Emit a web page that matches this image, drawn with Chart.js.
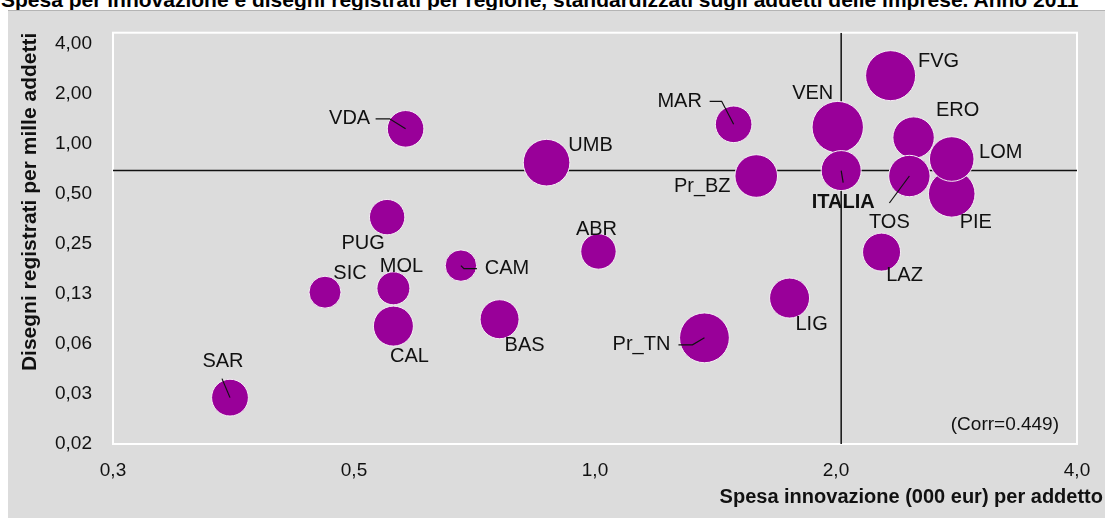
<!DOCTYPE html>
<html>
<head>
<meta charset="utf-8">
<script src="https://cdn.jsdelivr.net/npm/chart.js@4.4.0/dist/chart.umd.min.js"></script>
<style>
  html, body { margin: 0; padding: 0; background: #fff; width: 1105px; height: 518px; overflow: hidden; }
  #titolo { position: absolute; left: 1px; top: -11px; font: bold 21px "Liberation Sans", Arial, sans-serif; line-height: 21px; white-space: nowrap; color: #000; }
  #riquadro { position: absolute; left: 8px; top: 10px; width: 1097px; height: 507px; background: #dcdcdc; border-top: 1px solid #b4b4b4; }
  #bubbleChart { position: absolute; left: 8px; top: 6px; display: block; }
</style>
</head>
<body>
<div id="titolo">Spesa per innovazione e disegni registrati per regione, standardizzati sugli addetti delle imprese. Anno 2011</div>
<div id="riquadro"></div>
<canvas id="bubbleChart" width="1097" height="512"></canvas>
<script>
// Dati
var regioni = ['VDA', 'PIE', 'LOM', 'Pr_BZ', 'Pr_TN', 'VEN', 'FVG', 'LIG', 'ERO', 'TOS', 'UMB',
               'MAR', 'LAZ', 'ABR', 'MOL', 'CAM', 'PUG', 'BAS', 'CAL', 'SIC', 'SAR', 'ITALIA'];
// spesa innovazione (000 eur) per addetto
var spesa = [0.58, 2.79, 2.79, 1.59, 1.37, 2.01, 2.34, 1.75, 2.50, 2.47, 0.87,
             1.49, 2.28, 1.01, 0.56, 0.68, 0.55, 0.76, 0.56, 0.46, 0.35, 2.03];
// disegni registrati per mille addetti
var disegni = [1.23, 0.50, 0.81, 0.64, 0.068, 1.26, 2.57, 0.118, 1.09, 0.64, 0.77,
               1.31, 0.223, 0.225, 0.135, 0.185, 0.362, 0.088, 0.080, 0.128, 0.0297, 0.69];
// dimensione della bolla
var peso = [18.3, 23.3, 22.3, 21.3, 24.9, 25.7, 25.0, 20.0, 20.7, 20.7, 23.3,
            18.3, 19.0, 17.7, 16.5, 15.7, 17.7, 19.5, 20.0, 16.0, 18.4, 20.0];

var xTicks = [0.25, 0.5, 1, 2, 4];
var xTickLabels = ['0,3', '0,5', '1,0', '2,0', '4,0'];
var yTicks = [0.015625, 0.03125, 0.0625, 0.125, 0.25, 0.5, 1, 2, 4];
var yTickLabels = ['0,02', '0,03', '0,06', '0,13', '0,25', '0,50', '1,00', '2,00', '4,00'];
var correlazione = '(Corr=0.449)';

var FONT = '"Liberation Sans", Arial, sans-serif';

// posizione delle etichette rispetto al centro della bolla (px) e linee di richiamo
var posEtichette = {
  VDA:   { dx: -56, dy: -10, linea: [[-30, -10], [-16, -10], [0, 0]] },
  PIE:   { dx: 24, dy: 29 },
  LOM:   { dx: 49, dy: -7 },
  Pr_BZ: { dx: -54, dy: 10 },
  Pr_TN: { dx: -63, dy: 7, linea: [[-26, 7], [-12, 7], [0, 0]] },
  VEN:   { dx: -25, dy: -34 },
  FVG:   { dx: 48, dy: -14 },
  LIG:   { dx: 22, dy: 26 },
  ERO:   { dx: 44, dy: -27 },
  TOS:   { dx: -20, dy: 46, linea: [[-20, 27], [0, 0]] },
  UMB:   { dx: 44, dy: -17 },
  MAR:   { dx: -54, dy: -23, linea: [[-24, -23], [-12, -23], [0, 0]] },
  LAZ:   { dx: 23, dy: 23 },
  ABR:   { dx: -2, dy: -22 },
  MOL:   { dx: 8, dy: -22 },
  CAM:   { dx: 46, dy: 3, linea: [[0, 0], [3, 3], [16, 3]] },
  PUG:   { dx: -24, dy: 26 },
  BAS:   { dx: 25, dy: 26 },
  CAL:   { dx: 16, dy: 30 },
  SIC:   { dx: 25, dy: -19 },
  SAR:   { dx: -7, dy: -36, linea: [[-8, -19], [0, 0]] },
  ITALIA:{ dx: 2, dy: 32, bold: true, linea: [[0, 0], [2, 12]] }
};

var iItalia = regioni.indexOf('ITALIA');
var bolle = regioni.map(function (r, i) {
  return { x: spesa[i], y: disegni[i], r: peso[i] };
});

var yMin = yTicks[0];
var yMax = 4.66;
var xMin = xTicks[0];
var xMax = xTicks[xTicks.length - 1];

var etichettePlugin = {
  id: 'etichette',
  beforeDatasetsDraw: function (chart) {
    var a = chart.chartArea;
    var ctx = chart.ctx;
    ctx.save();
    ctx.strokeStyle = '#ffffff';
    ctx.lineWidth = 2;
    ctx.strokeRect(a.left, a.top, a.right - a.left, a.bottom - a.top);
    ctx.restore();
  },
  afterDatasetsDraw: function (chart) {
    var ctx = chart.ctx;
    var meta = chart.getDatasetMeta(0);
    ctx.save();
    ctx.textAlign = 'center';
    ctx.textBaseline = 'middle';
    ctx.fillStyle = '#111';
    ctx.strokeStyle = '#111';
    ctx.lineWidth = 1.2;
    meta.data.forEach(function (pt, i) {
      var p = posEtichette[regioni[i]];
      if (!p) return;
      if (p.linea) {
        ctx.beginPath();
        p.linea.forEach(function (q, k) {
          if (k === 0) ctx.moveTo(pt.x + q[0], pt.y + q[1]);
          else ctx.lineTo(pt.x + q[0], pt.y + q[1]);
        });
        ctx.stroke();
      }
      ctx.font = (p.bold ? 'bold ' : '') + '20px ' + FONT;
      ctx.fillText(regioni[i], pt.x + p.dx, pt.y + p.dy);
    });
    ctx.restore();
  },
  afterDraw: function (chart) {
    var ctx = chart.ctx;
    var a = chart.chartArea;
    ctx.save();
    ctx.fillStyle = '#111';
    ctx.textBaseline = 'middle';
    ctx.textAlign = 'right';
    ctx.font = '19px ' + FONT;
    ctx.fillText(correlazione, a.right - 18, a.bottom - 19);
    ctx.font = 'bold 20px ' + FONT;
    ctx.fillText('Spesa innovazione (000 eur) per addetto', chart.width - 2, a.bottom + 53);
    ctx.restore();
  }
};

var ctx = document.getElementById('bubbleChart').getContext('2d');

var bubbleChart = new Chart(ctx, {
  type: 'bubble',
  data: {
    datasets: [
      {
        label: 'Regioni',
        data: bolle,
        backgroundColor: '#990099',
        borderColor: '#f4eef4',
        borderWidth: 1,
        hoverRadius: 0
      },
      {
        type: 'line',
        label: 'ITALIA x',
        data: [{ x: spesa[iItalia], y: yMin }, { x: spesa[iItalia], y: yMax }],
        borderColor: '#111',
        borderWidth: 1.5,
        pointRadius: 0
      },
      {
        type: 'line',
        label: 'ITALIA y',
        data: [{ x: xMin, y: disegni[iItalia] }, { x: xMax, y: disegni[iItalia] }],
        borderColor: '#111',
        borderWidth: 1.5,
        pointRadius: 0
      }
    ]
  },
  options: {
    responsive: false,
    animation: false,
    // il margine superiore viene dalla bolla più grande (26.7 px)
    layout: { padding: { top: 0, right: 28, left: 0, bottom: 0 } },
    plugins: {
      legend: { display: false },
      tooltip: { enabled: false }
    },
    scales: {
      x: {
        type: 'logarithmic',
        min: xMin,
        max: xMax,
        grid: { display: false, drawTicks: true, tickLength: 15 },
        border: { display: false },
        afterBuildTicks: function (scale) {
          scale.ticks = xTicks.map(function (v) { return { value: v }; });
        },
        afterFit: function (scale) { scale.height = 74; },
        ticks: {
          autoSkip: false,
          maxRotation: 0,
          padding: 0,
          color: '#111',
          font: { family: FONT, size: 19 },
          callback: function (v, i) { return xTickLabels[i]; }
        }
      },
      y: {
        type: 'logarithmic',
        min: yMin,
        max: yMax,
        grid: { display: false, drawTicks: true, tickLength: 21 },
        border: { display: false },
        afterBuildTicks: function (scale) {
          scale.ticks = yTicks.map(function (v) { return { value: v }; });
        },
        afterFit: function (scale) { scale.width = 105; },
        ticks: {
          autoSkip: false,
          padding: 0,
          color: '#111',
          font: { family: FONT, size: 19 },
          callback: function (v, i) { return yTickLabels[i]; }
        },
        title: {
          display: true,
          text: 'Disegni registrati per mille addetti',
          align: 'end',
          color: '#111',
          padding: { top: 10 },
          font: { family: FONT, size: 21, weight: 'bold' }
        }
      }
    }
  },
  plugins: [etichettePlugin]
});
</script>
</body>
</html>
